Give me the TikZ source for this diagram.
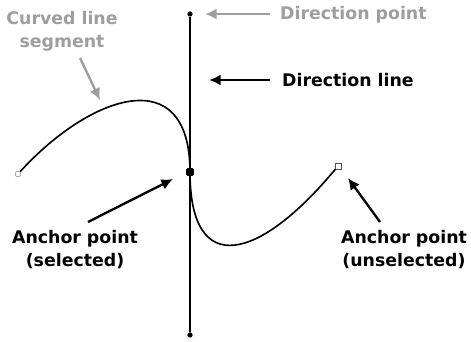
\documentclass[tikz,border=0pt]{standalone}
\usepackage{fontspec}
\setmainfont{DejaVu Sans}
\usetikzlibrary{arrows.meta}
\usetikzlibrary{positioning}

\definecolor{lightlabel}{gray}{0.62}

\tikzset{
  label/.style={font=\fontsize{14.8}{19.6}\selectfont\bfseries,inner sep=0pt,align=center},
  callout/.style={line width=2pt,-{Latex[length=10pt,width=9.5pt]}},
  handle/.style={circle,fill=black,inner sep=0pt,minimum size=4.5pt},
}

\begin{document}
\begin{tikzpicture}[x=0.03cm,y=-0.03cm]
\useasboundingbox (0,0) rectangle (471,342);

% anchor points and direction points
\node[handle] (top) at (190,14) {};
\node[handle] (bottom) at (190,335) {};
\node[rectangle,rounded corners=1pt,fill=black,inner sep=0pt,minimum size=6.5pt] (sel) at (190,172) {};
\node[circle,draw=lightlabel,fill=white,line width=0.6pt,inner sep=0pt,minimum size=5pt] (left) at (18,174) {};
\node[rectangle,draw=black!70,fill=white,line width=0.6pt,inner sep=0pt,minimum size=5pt] (right) at (338,166) {};

% direction line
\draw[line width=1pt] (top) -- (bottom);

% curved segments
\draw[line width=1.4pt] (left) .. controls (90,95) and (190,60) .. (sel.center);
\draw[line width=1.4pt] (sel.center) .. controls (190,280) and (260,260) .. (right);

% labels
\node[label,text=lightlabel] (curved) at (62,31) {Curved line\\segment};
\node[label,text=lightlabel,anchor=west] (dirpt) at (280,15) {Direction point};
\node[label,anchor=west] (dirline) at (282,80) {Direction line};
\node[label] (selected) at (75,250) {Anchor point\\(selected)};
\node[label] (unselected) at (404,250) {Anchor point\\(unselected)};

% arrow ends
\coordinate (curvedTail) at (80,58);
\coordinate (curvedTip) at (100,100);
\coordinate (dirptTail) at (270,14);
\coordinate (dirptTip) at (205,14);
\coordinate (dirlineTail) at (270,80);
\coordinate (dirlineTip) at (209,80);
\coordinate (selTail) at (88,222);
\coordinate (selTip) at (173,179);
\coordinate (unselTail) at (380,222);
\coordinate (unselTip) at (348,178);

\draw[callout,lightlabel] (curvedTail) -- (curvedTip);
\draw[callout,lightlabel] (dirptTail) -- (dirptTip);
\draw[callout] (dirlineTail) -- (dirlineTip);
\draw[callout] (selTail) -- (selTip);
\draw[callout] (unselTail) -- (unselTip);

\end{tikzpicture}
\end{document}
